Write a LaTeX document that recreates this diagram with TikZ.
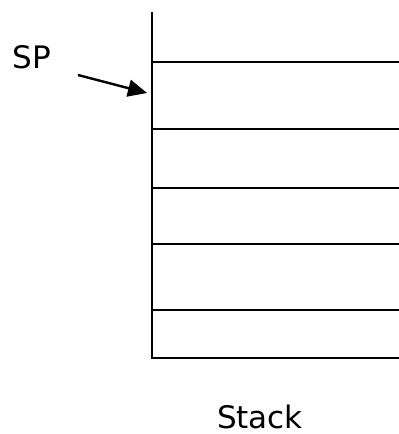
\documentclass[tikz,border=0pt]{standalone}
\usepackage{fontspec}
\setmainfont{DejaVu Sans}
\usetikzlibrary{arrows.meta}
\begin{document}
\begin{tikzpicture}[x=1pt,y=-1pt,
  rule/.style={line width=2pt},
  lbl/.style={font=\fontsize{31}{36}\selectfont, inner sep=0pt, anchor=base}]
\useasboundingbox (0,0) rectangle (399,434);
\coordinate (top) at (152,12);
\coordinate (bot) at (152,358);
\draw[rule] (top) -- (bot) -- (399,358);
\foreach \yy in {62,129,188,244,310}{
  \draw[rule] (152,\yy) -- (399,\yy);
}
\node[lbl] (sp) at (32,68) {SP};
\coordinate (as) at (78,75);
\coordinate (ae) at (147,93);
\draw[rule, line width=2.4pt, -{Triangle[length=19pt,width=17pt]}] (as) -- (ae);
\node[lbl] (stack) at (260,428) {Stack};
\end{tikzpicture}
\end{document}
